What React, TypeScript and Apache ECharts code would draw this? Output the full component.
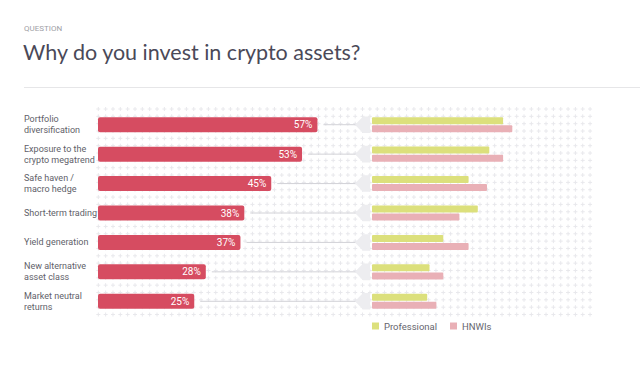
import React, { useEffect, useRef } from "react";
import * as echarts from "echarts";

const categories = [
  "Portfolio\ndiversification",
  "Exposure to the\ncrypto megatrend",
  "Safe haven /\nmacro hedge",
  "Short-term trading",
  "Yield generation",
  "New alternative\nasset class",
  "Market neutral\nreturns",
];
const overall = [57, 53, 45, 38, 37, 28, 25];
const professional = [57, 51, 42, 46, 31, 25, 24];
const hnwis = [61, 57, 50, 38, 42, 31, 28];
const seriesNames = ["Professional", "HNWIs"];

const LEFT_X = 98;
const LEFT_W = 231;
const RIGHT_X = 372;
const RIGHT_W = 230;
const GRID_TOP = 110;
const GRID_H = 206;
const FONT = "Roboto, 'Open Sans', sans-serif";
const TITLE_FONT = "Lato, 'Open Sans', sans-serif";

function buildPattern() {
  const els: any[] = [];
  const step = 7.34;
  const x0 = 98.3;
  const y0 = 109;
  const cols = 68;
  const rows = 29;
  const xEnd = x0 + (cols - 1) * step;
  const yEnd = y0 + (rows - 1) * step;
  const color = "#e8e8ec";
  for (let k = 0; k < rows; k++) {
    const y = y0 + k * step;
    els.push({
      type: "line",
      silent: true,
      z: 0,
      shape: { x1: x0 - 2, y1: y, x2: xEnd + 2, y2: y },
      style: { stroke: color, lineWidth: 1, lineDash: [4, step - 4] },
    });
  }
  for (let j = 0; j < cols; j++) {
    const x = x0 + j * step;
    els.push({
      type: "line",
      silent: true,
      z: 0,
      shape: { x1: x, y1: y0 - 2, x2: x, y2: yEnd + 2 },
      style: { stroke: color, lineWidth: 1, lineDash: [4, step - 4] },
    });
  }
  return els;
}

export default function App() {
  const ref = useRef<HTMLDivElement>(null);
  useEffect(() => {
    if (!ref.current) return;
    const chart = echarts.init(ref.current, undefined, { renderer: "svg" });
    const option: any = {
      animation: false,
      backgroundColor: "#ffffff",
      textStyle: { fontFamily: FONT },
      title: [
        {
          text: "QUESTION",
          left: 24,
          top: 24,
          padding: 0,
          textStyle: { fontSize: 8, color: "#a0a0a6", fontWeight: "normal", fontFamily: FONT },
        },
        {
          text: "Why do you invest in crypto assets?",
          left: 23,
          top: 41,
          padding: 0,
          textStyle: { fontSize: 21.5, color: "#4a4958", fontWeight: "normal", fontFamily: TITLE_FONT },
        },
      ],
      graphic: [
        {
          type: "line",
          silent: true,
          shape: { x1: 24, y1: 87.5, x2: 640, y2: 87.5 },
          style: { stroke: "#e6e6e8", lineWidth: 1 },
        },
        ...buildPattern(),
      ],
      legend: {
        data: seriesNames,
        left: RIGHT_X,
        top: 321,
        padding: 0,
        icon: "rect",
        itemWidth: 7,
        itemHeight: 7,
        itemGap: 13,
        selectedMode: false,
        textStyle: { fontSize: 9.5, color: "#66666e", fontWeight: "normal", fontFamily: FONT },
      },
      grid: [
        { left: LEFT_X, width: LEFT_W, top: GRID_TOP, height: GRID_H },
        { left: RIGHT_X, width: RIGHT_W, top: GRID_TOP, height: GRID_H },
      ],
      xAxis: [
        { type: "value", gridIndex: 0, min: 0, max: 60, show: false },
        { type: "value", gridIndex: 1, min: 0, max: 100, show: false },
      ],
      yAxis: [
        {
          type: "category",
          gridIndex: 0,
          data: categories,
          inverse: true,
          axisLine: { show: false },
          axisTick: { show: false },
          splitLine: { show: false },
          axisLabel: {
            align: "left",
            margin: 74,
            width: 110,
            overflow: "none",
            fontSize: 9,
            lineHeight: 11,
            color: "#616169",
            fontFamily: FONT,
          },
        },
        {
          type: "category",
          gridIndex: 1,
          data: categories,
          inverse: true,
          show: false,
        },
      ],
      series: [
        {
          type: "custom",
          name: "connector",
          xAxisIndex: 0,
          yAxisIndex: 0,
          silent: true,
          z: 1,
          data: overall.map((v, i) => [v, i]),
          renderItem: (params: any, api: any) => {
            const p = api.coord([api.value(0), api.value(1)]);
            const y = p[1];
            const tip = RIGHT_X - 17;
            return {
              type: "group",
              children: [
                {
                  type: "line",
                  shape: { x1: p[0] + 6, y1: y, x2: tip + 2, y2: y },
                  style: { stroke: "#d2d2d7", lineWidth: 1 },
                },
                {
                  type: "polygon",
                  shape: {
                    points: [
                      [tip, y],
                      [tip + 8, y - 8.3],
                      [tip + 15, y - 8.3],
                      [tip + 15, y + 8.3],
                      [tip + 8, y + 8.3],
                    ],
                  },
                  style: { fill: "#ededf0" },
                },
              ],
            };
          },
        },
        {
          type: "bar",
          name: "Overall",
          xAxisIndex: 0,
          yAxisIndex: 0,
          data: overall,
          barWidth: 15,
          z: 3,
          itemStyle: { color: "#d64c61", borderRadius: 2 },
          label: {
            show: true,
            position: "insideRight",
            distance: 5,
            formatter: "{c}%",
            color: "#ffffff",
            fontSize: 10,
            fontFamily: FONT,
          },
        },
        {
          type: "bar",
          name: seriesNames[0],
          xAxisIndex: 1,
          yAxisIndex: 1,
          data: professional,
          barWidth: 7,
          barGap: "15%",
          z: 3,
          itemStyle: { color: "#dce07c", borderRadius: 1 },
        },
        {
          type: "bar",
          name: seriesNames[1],
          xAxisIndex: 1,
          yAxisIndex: 1,
          data: hnwis,
          barWidth: 7,
          barGap: "15%",
          z: 3,
          itemStyle: { color: "#e9b0b6", borderRadius: 1 },
        },
      ],
    };
    chart.setOption(option);
    return () => chart.dispose();
  }, []);
  return (
    <div
      ref={ref}
      style={{ position: "fixed", left: 0, top: 0, width: 640, height: 366 }}
    />
  );
}
